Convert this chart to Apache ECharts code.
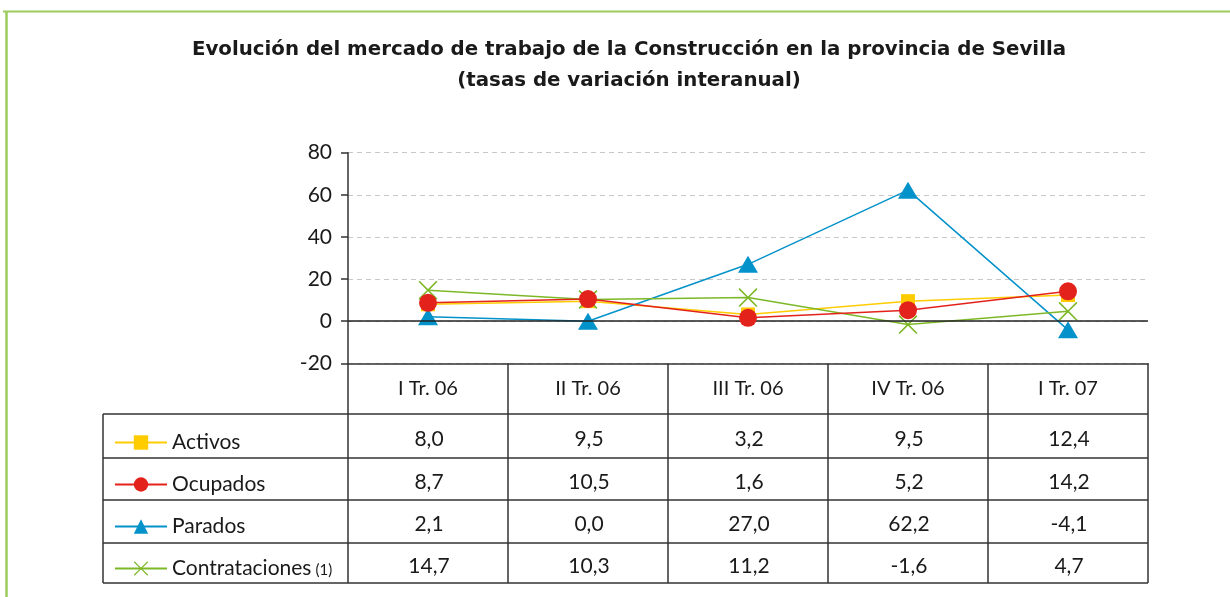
<!DOCTYPE html>
<html>
<head>
<meta charset="utf-8">
<title>Evolución del mercado de trabajo de la Construcción</title>
<script src="https://cdn.jsdelivr.net/npm/echarts@6/dist/echarts.min.js"></script>
<style>
  html, body { margin: 0; padding: 0; background: #fff; }
  #chart { width: 1230px; height: 597px; }
</style>
</head>
<body>
<div id="chart"></div>
<script>
// datos (tasas de variación interanual, %)
const categories = ['I Tr. 06', 'II Tr. 06', 'III Tr. 06', 'IV Tr. 06', 'I Tr. 07']
const seriesNames = ['Activos', 'Ocupados', 'Parados', 'Contrataciones']
const activos = [8.0, 9.5, 3.2, 9.5, 12.4]
const ocupados = [8.7, 10.5, 1.6, 5.2, 14.2]
const parados = [2.1, 0.0, 27.0, 62.2, -4.1]
const contrataciones = [14.7, 10.3, 11.2, -1.6, 4.7]
const yTicks = [-20, 0, 20, 40, 60, 80]

const allValues = [activos, ocupados, parados, contrataciones]
const colors = ['#FFCC00', '#E3221B', '#0392C9', '#7DB828']
// aspa (X) rellena
const crossPath = 'path://M1.2,0L10,8.8L18.8,0L20,1.2L11.2,10L20,18.8L18.8,20L10,11.2L1.2,20L0,18.8L8.8,10L0,1.2Z'
const symbols = ['rect', 'circle', 'triangle', crossPath]
const symbolSizes = [14, 18, [20, 17], 19]

// layout
const GRID_LEFT = 348
const GRID_RIGHT = 1148
const GRID_TOP = 152.7
const AXIS_BOTTOM = 363.3
const TABLE_LEFT = 103
const rowLines = [414, 458, 500, 543, 583]
const colW = (GRID_RIGHT - GRID_LEFT) / categories.length
const LINE_COLOR = '#333'
const FONT = 'Lato, "Open Sans", sans-serif'

const fmt = v => v.toFixed(1).replace('.', ',')

const chart = echarts.init(document.getElementById('chart'))

// tabla de datos
const graphics = []
// marco verde
graphics.push({ type: 'line', shape: { x1: 3, y1: 11.5, x2: 1230, y2: 11.5 }, style: { stroke: '#9DCB5C', lineWidth: 2 } })
graphics.push({ type: 'line', shape: { x1: 6.5, y1: 11, x2: 6.5, y2: 597 }, style: { stroke: '#9DCB5C', lineWidth: 2.5 } })
// líneas horizontales
rowLines.forEach(y => {
  graphics.push({ type: 'line', shape: { x1: TABLE_LEFT, y1: y, x2: GRID_RIGHT, y2: y }, style: { stroke: LINE_COLOR, lineWidth: 1.5 } })
})
// líneas verticales
graphics.push({ type: 'line', shape: { x1: TABLE_LEFT, y1: rowLines[0], x2: TABLE_LEFT, y2: rowLines[rowLines.length - 1] }, style: { stroke: LINE_COLOR, lineWidth: 1.5 } })
for (let k = 0; k <= categories.length; k++) {
  const x = GRID_LEFT + k * colW
  graphics.push({ type: 'line', shape: { x1: x, y1: AXIS_BOTTOM, x2: x, y2: rowLines[rowLines.length - 1] }, style: { stroke: LINE_COLOR, lineWidth: 1.5 } })
}
// valores
allValues.forEach((vals, r) => {
  const cy = (rowLines[r] + rowLines[r + 1]) / 2 + 3
  vals.forEach((v, c) => {
    graphics.push({
      type: 'text',
      x: GRID_LEFT + colW * (c + 0.5) + 1,
      y: cy,
      style: { text: fmt(v), fill: '#1a1a1a', font: '21px ' + FONT, textAlign: 'center', textVerticalAlign: 'middle' }
    })
  })
})

// leyenda dentro de la tabla, una por fila
const legendCenters = [441, 483, 525, 567]
const legends = seriesNames.map((name, i) => ({
  data: [name],
  left: 114,
  top: legendCenters[i] - 9,
  padding: 0,
  itemWidth: 52,
  itemHeight: 18,
  itemGap: 0,
  selectedMode: false,
  formatter: n => n === 'Contrataciones' ? n + '{s|(1)}' : n,
  textStyle: {
    fontSize: 21,
    color: '#1a1a1a',
    fontFamily: FONT,
    rich: { s: { fontSize: 15, padding: [3, 0, 0, 4], fontFamily: FONT, color: '#1a1a1a' } }
  }
}))

const series = seriesNames.map((name, i) => ({
  name: name,
  type: 'line',
  data: allValues[i],
  symbol: symbols[i],
  symbolSize: symbolSizes[i],
  z: [2, 5, 3, 4][i],
  lineStyle: { color: colors[i], width: 1.5 },
  itemStyle: { color: colors[i] },
  emphasis: { disabled: true },
  animation: false
}))
series[0].markLine = {
  silent: true,
  symbol: 'none',
  label: { show: false },
  lineStyle: { color: '#222', type: 'solid', width: 1.5 },
  data: [{ yAxis: 0 }],
  animation: false
}

chart.setOption({
  animation: false,
  title: {
    text: 'Evolución del mercado de trabajo de la Construcción en la provincia de Sevilla\n(tasas de variación interanual)',
    left: 624,
    textAlign: 'center',
    top: 29,
    textStyle: { fontSize: 19.8, fontWeight: 'bold', lineHeight: 31, color: '#1a1a1a', fontFamily: '"DejaVu Sans", sans-serif' }
  },
  legend: legends,
  grid: {
    left: GRID_LEFT,
    right: 1230 - GRID_RIGHT,
    top: GRID_TOP,
    bottom: 597 - AXIS_BOTTOM
  },
  xAxis: {
    type: 'category',
    data: categories,
    boundaryGap: true,
    axisLine: { onZero: false, lineStyle: { color: LINE_COLOR, width: 1.5 } },
    axisTick: { show: false },
    axisLabel: { fontSize: 20, color: '#1a1a1a', fontFamily: FONT, margin: 15 },
    splitLine: { show: false }
  },
  yAxis: {
    type: 'value',
    min: yTicks[0],
    max: yTicks[yTicks.length - 1],
    interval: 20,
    axisLine: { show: true, lineStyle: { color: LINE_COLOR, width: 1.5 } },
    axisTick: { show: true, length: 7, lineStyle: { color: LINE_COLOR, width: 1.5 } },
    axisLabel: { fontSize: 21, color: '#1a1a1a', fontFamily: FONT, margin: 16 },
    splitLine: {
      show: true,
      lineStyle: { color: '#c8c8c8', type: [5, 4], width: 1.2 }
    }
  },
  graphic: graphics,
  series: series
})
</script>
</body>
</html>
